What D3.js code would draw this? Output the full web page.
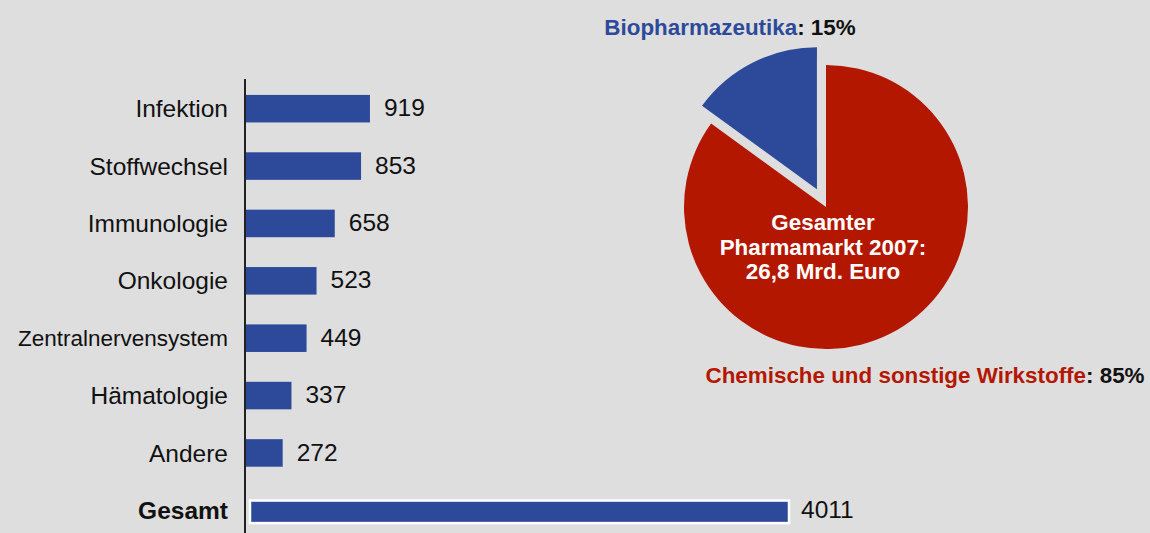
<!DOCTYPE html>
<html>
<head>
<meta charset="utf-8">
<script src="https://cdn.jsdelivr.net/npm/d3@7"></script>
<style>
  html, body { margin: 0; padding: 0; background: #dedede; }
  svg { display: block; font-family: "Liberation Sans", Arial, sans-serif; }
</style>
</head>
<body>
<svg id="chart" width="1150" height="533"></svg>
<script>
// ---- data ----
const categories = ["Infektion", "Stoffwechsel", "Immunologie", "Onkologie",
  "Zentralnervensystem", "Hämatologie", "Andere", "Gesamt"];
const values = [919, 853, 658, 523, 449, 337, 272, 4011];
const totalCategory = "Gesamt";

const pieLabels = ["Biopharmazeutika", "Chemische und sonstige Wirkstoffe"];
const pieValues = [15, 85];
const pieCenterText = ["Gesamter", "Pharmamarkt 2007:", "26,8 Mrd. Euro"];

// ---- styles ----
const BLUE = "#2d4a9a";
const RED = "#b41700";
const svg = d3.select("#chart");

// ---- bar chart ----
const x = d3.scaleLinear().domain([0, 4011]).range([246, 787]);
const y = d3.scaleBand().domain(categories).range([80, 539])
  .paddingInner(0.52).paddingOuter(0.26);

// axis line
svg.append("line")
  .attr("x1", 245).attr("x2", 245)
  .attr("y1", 79).attr("y2", 533)
  .attr("stroke", "#222").attr("stroke-width", 2);

const rows = categories.map((c, i) => ({ c, v: values[i], total: c === totalCategory }));

svg.selectAll("rect.bar").data(rows).enter().append("rect")
  .attr("class", "bar")
  .attr("x", d => d.total ? x(0) + 4 : x(0))
  .attr("y", d => d.total ? y(d.c) + 4 : y(d.c))
  .attr("width", d => d.total ? x(d.v) - x(0) - 2 : x(d.v) - x(0))
  .attr("height", d => d.total ? y.bandwidth() - 5 : y.bandwidth())
  .attr("fill", BLUE)
  .attr("stroke", d => d.total ? "#ffffff" : "none")
  .attr("stroke-width", d => d.total ? 2.5 : 0);

// category labels
svg.selectAll("text.cat").data(rows).enter().append("text")
  .attr("class", "cat")
  .attr("x", 228)
  .attr("y", d => y(d.c) + y.bandwidth() / 2)
  .attr("dy", "0.35em")
  .attr("text-anchor", "end")
  .attr("font-size", 24.5)
  .attr("font-weight", d => d.total ? "bold" : "normal")
  .attr("fill", "#111")
  .text(d => d.c)
  .each(function () {
    if (this.getComputedTextLength() > 205) d3.select(this).attr("font-size", 22.5);
  });

// value labels
svg.selectAll("text.val").data(rows).enter().append("text")
  .attr("class", "val")
  .attr("x", d => x(d.v) + (d.total ? 14 : 14))
  .attr("y", d => y(d.c) + y.bandwidth() / 2 - 1)
  .attr("dy", "0.35em")
  .attr("font-size", 24.5)
  .attr("fill", "#111")
  .text(d => d.v);

// ---- pie chart ----
const cx = 826, cy = 207, R = 142, explode = 20;
const pie = d3.pie().sort(null)
  .startAngle(-2 * Math.PI * pieValues[0] / 100)
  .endAngle(2 * Math.PI - 2 * Math.PI * pieValues[0] / 100);
const arcs = pie(pieValues);
const arc = d3.arc().innerRadius(0).outerRadius(R);
const pieColors = [BLUE, RED];

const pg = svg.append("g").attr("transform", `translate(${cx},${cy})`);
pg.selectAll("path").data(arcs).enter().append("path")
  .attr("d", arc)
  .attr("fill", (d, i) => pieColors[i])
  .attr("transform", (d, i) => {
    if (i !== 0) return null;
    const m = (d.startAngle + d.endAngle) / 2;
    return `translate(${Math.sin(m) * explode},${-Math.cos(m) * explode})`;
  });

// center text
pg.selectAll("text.center").data(pieCenterText).enter().append("text")
  .attr("class", "center")
  .attr("x", -3)
  .attr("y", (d, i) => 23 + i * 24.5)
  .attr("text-anchor", "middle")
  .attr("font-size", 22.4)
  .attr("font-weight", "bold")
  .attr("fill", "#ffffff")
  .text(d => d);

// outside labels
const lab1 = svg.append("text")
  .attr("x", 730).attr("y", 35)
  .attr("text-anchor", "middle")
  .attr("font-size", 22.4).attr("font-weight", "bold");
lab1.append("tspan").attr("fill", BLUE).text(pieLabels[0]);
lab1.append("tspan").attr("fill", "#111").text(": " + pieValues[0] + "%");

const lab2 = svg.append("text")
  .attr("x", 925).attr("y", 383)
  .attr("text-anchor", "middle")
  .attr("font-size", 22.4).attr("font-weight", "bold");
lab2.append("tspan").attr("fill", RED).text(pieLabels[1]);
lab2.append("tspan").attr("fill", "#111").text(": " + pieValues[1] + "%");
</script>
</body>
</html>
